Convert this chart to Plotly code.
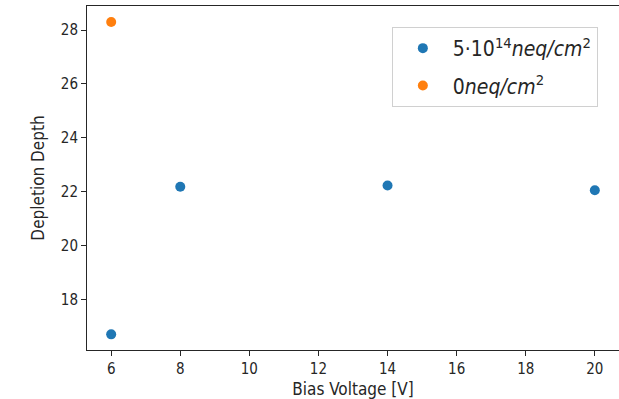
import plotly.graph_objects as go

# Data
bias_irr = [6, 8, 14, 20]
depth_irr = [16.72, 22.19, 22.24, 22.06]
err_irr = [0.08, 0.08, 0.08, 0.08]

bias_unirr = [6]
depth_unirr = [28.3]
err_unirr = [0.1]

label_irr = "5·10<sup>14</sup><i>neq/cm</i><sup>2</sup>"
label_unirr = "0<i>neq/cm</i><sup>2</sup>"

x_ticks = [6, 8, 10, 12, 14, 16, 18, 20]
y_ticks = [18, 20, 22, 24, 26, 28]

FONT = "DejaVu Sans Condensed, DejaVu Sans"

fig = go.Figure()
fig.add_trace(go.Scatter(
    x=bias_irr, y=depth_irr, mode="markers", name=label_irr,
    legendgroup="a",
    marker=dict(color="#1f77b4", size=10),
    error_y=dict(type="data", array=err_irr, color="#1f77b4", thickness=1.5, width=0),
))
fig.add_trace(go.Scatter(
    x=bias_unirr, y=depth_unirr, mode="markers", name=label_unirr,
    legendgroup="b",
    marker=dict(color="#ff7f0e", size=10),
    error_y=dict(type="data", array=err_unirr, color="#ff7f0e", thickness=1.5, width=0),
))

axis_common = dict(
    showgrid=False, zeroline=False, showline=True, linecolor="#262626", linewidth=1,
    ticks="outside", ticklen=5, tickwidth=1, tickcolor="#262626", automargin=False,
    tickfont=dict(family=FONT, size=15, color="#262626"),
)

fig.update_layout(
    width=619, height=399,
    margin=dict(l=87, r=0, t=6, b=49),
    paper_bgcolor="white", plot_bgcolor="white",
    font=dict(family=FONT, color="#262626"),
    xaxis=dict(range=[5.3, 20.7], tickvals=x_ticks, mirror=True,
               title=dict(text="Bias Voltage [V]", font=dict(size=17), standoff=6),
               **axis_common),
    yaxis=dict(range=[16.14, 28.89], tickvals=y_ticks,
               title=dict(text="Depletion Depth", font=dict(size=17), standoff=11),
               **axis_common),
    showlegend=True,
    legend=dict(
        x=0.573, y=0.939, xanchor="left", yanchor="top",
        bordercolor="#d0d0d0", borderwidth=1, bgcolor="white",
        font=dict(family=FONT, size=21, color="#262626"),
        traceorder="grouped", tracegroupgap=7,
        itemwidth=50,
    ),
    annotations=[dict(
        text="Depletion Depth vs Bias Voltage", xref="paper", yref="paper",
        x=0.143, y=1.0, xanchor="left", yanchor="bottom", yshift=3,
        showarrow=False, font=dict(family=FONT, size=21, color="#262626"),
    )],
)

fig.write_html("out.html", config={"displayModeBar": False},
               post_script="document.body.style.margin='0';")
